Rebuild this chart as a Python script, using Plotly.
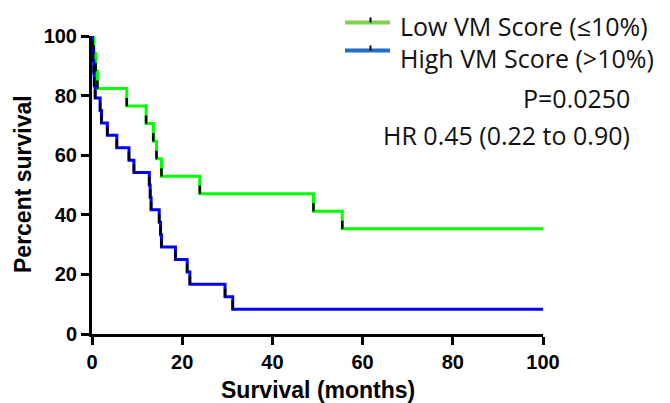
import plotly.graph_objects as go

# Kaplan-Meier curves: time (months) and percent survival at each step
low_time = [0, 0.4, 0.8, 1.2, 7.7, 12.0, 13.6, 14.3, 15.4, 23.9, 49.1, 55.5, 100]
low_surv = [100, 94.1, 88.2, 82.4, 76.5, 70.6, 64.7, 58.8, 52.9, 47.1, 41.2, 35.3, 35.3]

high_time = [0, 0.1, 0.2, 0.4, 0.5, 0.7, 1.8, 2.1, 3.4, 5.5, 8.2, 9.3, 12.7, 12.9,
             13.1, 14.9, 15.2, 15.4, 18.5, 21.1, 21.7, 29.5, 31.2, 100]
high_surv = [100, 95.8, 91.7, 87.5, 83.3, 79.2, 75.0, 70.8, 66.7, 62.5, 58.3, 54.2,
             50.0, 45.8, 41.7, 37.5, 33.3, 29.2, 25.0, 20.8, 16.7, 12.5, 8.3, 8.3]

legend_labels = ["Low VM Score (≤10%)", "High VM Score (>10%)"]
p_text = "P=0.0250"
hr_text = "HR 0.45 (0.22 to 0.90)"
x_ticks = [0, 20, 40, 60, 80, 100]
y_ticks = [0, 20, 40, 60, 80, 100]

W, H = 670, 403
ML, MR, MT, MB = 92, 127, 36, 69
PW, PH = W - ML - MR, H - MT - MB


def px(x):
    return (x - ML) / PW


def py(y):
    return (H - MB - y) / PH


fig = go.Figure()

for t, s, col in [(low_time, low_surv, "#00ff00"), (high_time, high_surv, "#0000ff")]:
    fig.add_trace(go.Scatter(x=t, y=s, mode="lines", line=dict(color=col, width=3, shape="hv"),
                             showlegend=False, hoverinfo="skip"))
    # black tick at each event step
    ev_t, ev_s = t[1:-1], s[1:-1]
    fig.add_trace(go.Scatter(x=ev_t, y=ev_s, mode="markers",
                             marker=dict(size=1, color="black"),
                             error_y=dict(type="data", symmetric=False,
                                          array=[2.7] * len(ev_t), arrayminus=[0] * len(ev_t),
                                          color="black", thickness=2.5, width=0),
                             showlegend=False, hoverinfo="skip"))

# legend drawn by hand
leg_cols = ["#7ed04e", "#1f6fc6"]
leg_y = [22.5, 50.5]
text_y = [26.5, 58]
font_txt = dict(family="Open Sans", size=25, color="#111111")
for lab, c, ly, ty in zip(legend_labels, leg_cols, leg_y, text_y):
    fig.add_shape(type="line", xref="paper", yref="paper", x0=px(345), x1=px(390),
                  y0=py(ly), y1=py(ly), line=dict(color=c, width=4))
    fig.add_shape(type="line", xref="paper", yref="paper", x0=px(370.5), x1=px(370.5),
                  y0=py(ly - 5), y1=py(ly), line=dict(color="black", width=2))
    fig.add_annotation(text=lab, xref="paper", yref="paper", x=px(398), y=py(ty),
                       xanchor="left", yanchor="middle", showarrow=False, font=font_txt)

fig.add_annotation(text=p_text, xref="paper", yref="paper", x=px(632), y=py(97.5),
                   xanchor="right", yanchor="middle", showarrow=False, font=font_txt)
fig.add_annotation(text=hr_text, xref="paper", yref="paper", x=px(632), y=py(135),
                   xanchor="right", yanchor="middle", showarrow=False, font=font_txt)

axis_font = dict(family="Liberation Sans", size=23, color="black", weight="bold")
fig.add_annotation(text="Percent survival", xref="paper", yref="paper", x=px(23), y=py(184),
                   xanchor="center", yanchor="middle", textangle=-90, showarrow=False,
                   font=axis_font)
fig.add_annotation(text="Survival (months)", xref="paper", yref="paper", x=px(317.5), y=py(390),
                   xanchor="center", yanchor="middle", showarrow=False, font=axis_font)

tick_font = dict(family="Liberation Sans", size=20, color="black", weight="bold")
fig.update_xaxes(range=[0, 100], tickvals=x_ticks, ticktext=[str(v) for v in x_ticks],
                 showgrid=False, zeroline=False, showline=True, linecolor="black", linewidth=3,
                 ticks="outside", ticklen=8, tickwidth=3, tickcolor="black", tickfont=tick_font)
fig.update_yaxes(range=[0, 100], tickvals=y_ticks, ticktext=[str(v) for v in y_ticks],
                 showgrid=False, zeroline=False, showline=True, linecolor="black", linewidth=3,
                 ticks="outside", ticklen=8, tickwidth=3, tickcolor="black", tickfont=tick_font)

fig.update_layout(width=W, height=H, margin=dict(l=ML, r=MR, t=MT, b=MB),
                  plot_bgcolor="white", paper_bgcolor="white", showlegend=False)

fig.write_html("out.html")
